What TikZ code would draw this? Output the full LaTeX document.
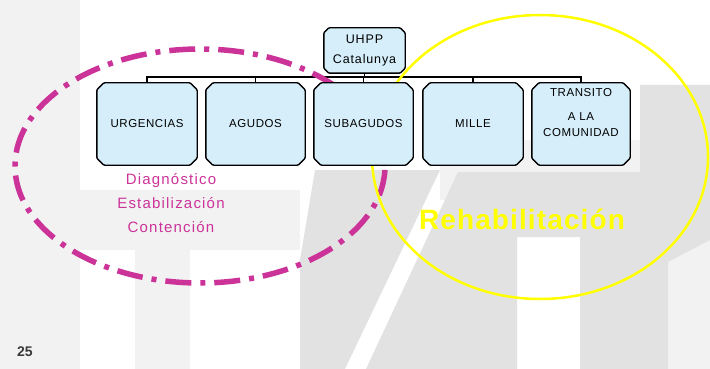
\documentclass[tikz,border=0pt]{standalone}
\usepackage{fontspec}
\setmainfont{Liberation Sans}
\definecolor{boxfill}{HTML}{D6EEFA}
\definecolor{magline}{HTML}{CC3399}
\definecolor{yelline}{HTML}{FFFF00}
\definecolor{shadeA}{HTML}{E2E2E2}
\definecolor{shadeB}{HTML}{F2F2F2}
\definecolor{pagenum}{HTML}{3A3A3A}

\pgfdeclarelayer{shade}
\pgfdeclarelayer{rings}
\pgfdeclarelayer{boxes}
\pgfsetlayers{shade,rings,boxes,main}

\tikzset{
  unit/.style={rectangle, minimum width=99pt, minimum height=82pt,
    inner sep=0pt, align=center,
    font=\fontsize{11.5}{20}\selectfont\addfontfeature{LetterSpace=5}},
  boxline/.style={draw=black, line width=1.4pt, fill=boxfill,
    rounded corners=1pt},
  conn/.style={draw=black, line width=1.2pt},
  phase/.style={text=magline, align=center, inner sep=0pt,
    font=\fontsize{15}{24}\selectfont\addfontfeature{LetterSpace=8}},
}

% chamfered outline round a named node, chamfer #2
\newcommand\chamferbox[2]{%
  \path[boxline] ([xshift=#2]#1.north west) -- ([xshift=-#2]#1.north east)
    -- ([yshift=-#2]#1.north east) -- ([yshift=#2]#1.south east)
    -- ([xshift=-#2]#1.south east) -- ([xshift=#2]#1.south west)
    -- ([yshift=#2]#1.south west) -- ([yshift=-#2]#1.north west) -- cycle;}

\begin{document}
\begin{tikzpicture}[x=1pt,y=-1pt]
\useasboundingbox (0,0) rectangle (710,369);

\begin{pgfonlayer}{shade}
\fill[white] (0,0) rectangle (710,369);
% faint halftone background
\fill[shadeB] (0,0) rectangle (80,369);
\fill[shadeB] (0,190) rectangle (300,250);
\fill[shadeB] (135,250) rectangle (190,369);
\fill[shadeB] (440,140) rectangle (640,200);
\fill[shadeB] (668,240) rectangle (710,369);
\fill[shadeA] (315,170) -- (440,170) -- (345,369) -- (300,369) -- (300,260) -- cycle;
\fill[shadeA] (458,172) -- (640,172) -- (640,237) -- (517,237) -- (517,369)
  -- (366,369) -- cycle;
\fill[shadeA] (580,237) -- (580,172) -- (640,172) -- (640,85) -- (710,85)
  -- (710,240) -- (668,262) -- (668,369) -- (580,369) -- cycle;
\end{pgfonlayer}

% chart units
\node[unit, minimum width=81pt, minimum height=45pt,
  font=\fontsize{12.5}{20}\selectfont\addfontfeature{LetterSpace=7}]
  (uhpp) at (364.5,50.5) {UHPP\\Catalunya};
\node[unit, minimum width=100pt] (urg) at (147,124) {URGENCIAS};
\node[unit] (agu) at (255.5,124) {AGUDOS};
\node[unit] (sub) at (363.5,124) {SUBAGUDOS};
\node[unit, minimum width=100pt] (mil) at (473,124) {MILLE};
\node[unit, minimum width=98pt] (tra) at (581,124)
  {TRANSITO\\[4pt]A LA\\[-4pt]COMUNIDAD\\[-3pt]\strut};

\begin{pgfonlayer}{boxes}
\chamferbox{uhpp}{5pt}
\foreach \n in {urg,agu,sub,mil,tra} {\chamferbox{\n}{7pt}}
\end{pgfonlayer}

\begin{pgfonlayer}{rings}
% bus line of the organisation chart
\coordinate (bus) at (0,77);
\draw[conn] (urg.north) -- (urg.north |- bus) -- (tra.north |- bus) -- (tra.north);
\draw[conn] (agu.north) -- (agu.north |- bus);
\draw[conn] (sub.north) -- (sub.north |- bus);
\draw[conn] (mil.north) -- (mil.north |- bus);
\draw[conn] (uhpp.south) -- (uhpp.south |- bus);
% grouping outlines
\draw[magline, line width=5.5pt, dash pattern=on 26pt off 9pt on 5pt off 9pt]
  (200,166) ellipse [x radius=185pt, y radius=117pt];
\draw[yelline, line width=2.5pt]
  (540,157) ellipse [x radius=168pt, y radius=142pt];
\end{pgfonlayer}

% phase labels
\node[phase] (acute) at (171,203) {Diagnóstico\\Estabilización\\Contención};
\node[text=yelline, inner sep=0pt,
  font=\fontsize{28}{30}\selectfont\bfseries\addfontfeature{LetterSpace=4}]
  (rehab) at (522,219) {Rehabilitación};

\node[text=pagenum, inner sep=0pt, font=\fontsize{14}{16}\selectfont\bfseries]
  (page) at (25,352) {25};
\end{tikzpicture}
\end{document}
